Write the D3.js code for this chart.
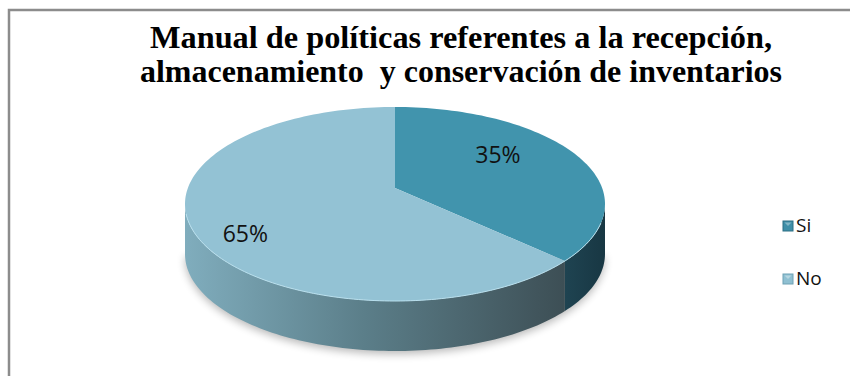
<!DOCTYPE html>
<html>
<head>
<meta charset="utf-8">
<script src="https://cdn.jsdelivr.net/npm/d3@7"></script>
<style>
  body { margin: 0; background: #fff; }
  svg { display: block; }
</style>
</head>
<body>
<div class="chart"></div>
<script>
const width = 850;
const height = 376;

// data
const categories = ['Si', 'No'];
const values = [35, 65];
const titleLines = [
  'Manual de políticas referentes a la recepción,',
  'almacenamiento  y conservación de inventarios'
];

const topColors = ['#4194ad', '#93c2d4'];
const legendColors = ['#3f8fa8', '#8fc0d2'];

// pie geometry (pseudo 3d)
const cx = 395;
const cy = 204;
const rx = 210;
const ry = 97;
const depth = 50;
const apexLift = 16;

const svg = d3.select('.chart')
  .append('svg')
  .attr('width', width)
  .attr('height', height);

const defs = svg.append('defs');

const noSide = defs.append('linearGradient')
  .attr('id', 'side-no')
  .attr('gradientUnits', 'userSpaceOnUse')
  .attr('x1', cx - rx).attr('x2', cx + rx * 0.9)
  .attr('y1', 0).attr('y2', 0);
noSide.append('stop').attr('offset', 0).attr('stop-color', '#80adbd');
noSide.append('stop').attr('offset', 0.45).attr('stop-color', '#5b7e89');
noSide.append('stop').attr('offset', 1).attr('stop-color', '#3a4a50');

const siSide = defs.append('linearGradient')
  .attr('id', 'side-si')
  .attr('gradientUnits', 'userSpaceOnUse')
  .attr('x1', cx + rx * 0.8).attr('x2', cx + rx)
  .attr('y1', 0).attr('y2', 0);
siSide.append('stop').attr('offset', 0).attr('stop-color', '#1f4452');
siSide.append('stop').attr('offset', 1).attr('stop-color', '#183743');

const shadow = defs.append('filter')
  .attr('id', 'blur')
  .attr('x', '-20%').attr('y', '-50%')
  .attr('width', '140%').attr('height', '200%');
shadow.append('feGaussianBlur').attr('stdDeviation', 4);

// frame
svg.append('path')
  .attr('d', `M9,${height + 5} V10 H${width + 5}`)
  .attr('fill', 'none')
  .attr('stroke', '#8c8c8c')
  .attr('stroke-width', 2.5);

// title
svg.append('g')
  .selectAll('text')
  .data(titleLines)
  .join('text')
  .attr('x', 461)
  .attr('y', (d, i) => 48 + i * 34)
  .attr('text-anchor', 'middle')
  .attr('font-family', '"Liberation Serif", "Times New Roman", serif')
  .attr('font-weight', 'bold')
  .attr('font-size', 32)
  .attr('textLength', (d, i) => (i === 0 ? 622 : 642))
  .attr('lengthAdjust', 'spacingAndGlyphs')
  .style('white-space', 'pre')
  .attr('fill', '#000')
  .text((d) => d);

const pie = d3.pie().sort(null).value((d) => d);
const arcs = pie(values);

const pt = (a, dy = 0) => [cx + rx * Math.sin(a), cy - ry * Math.cos(a) + dy];
const line = d3.line();

function rim(a0, a1, dy = 0) {
  const n = Math.max(2, Math.ceil(Math.abs(a1 - a0) * 40));
  return d3.range(n + 1).map((k) => pt(a0 + (a1 - a0) * k / n, dy));
}

// shadow under the pie
svg.append('path')
  .attr('d', line(rim(Math.PI / 2, 3 * Math.PI / 2, depth + 3)) + 'Z')
  .attr('fill', '#000')
  .attr('opacity', 0.28)
  .attr('filter', 'url(#blur)');

// side walls (front half only)
const sideG = svg.append('g');
arcs.forEach((a, i) => {
  const s = Math.max(a.startAngle, Math.PI / 2);
  const e = Math.min(a.endAngle, 3 * Math.PI / 2);
  if (e <= s) return;
  const pts = rim(s, e).concat(rim(e, s, depth));
  sideG.append('path')
    .attr('d', line(pts) + 'Z')
    .attr('fill', i === 0 ? 'url(#side-si)' : 'url(#side-no)');
});

// top faces
const apex = [cx, cy - apexLift];
const topG = svg.append('g');
arcs.forEach((a, i) => {
  const pts = [apex].concat(rim(a.startAngle, a.endAngle));
  topG.append('path')
    .attr('d', line(pts) + 'Z')
    .attr('fill', topColors[i]);
});

// light rim on the front edge
topG.append('path')
  .attr('d', line(rim(Math.PI / 2 + 0.2, 3 * Math.PI / 2 - 0.1)))
  .attr('fill', 'none')
  .attr('stroke', '#b9e0ee')
  .attr('stroke-width', 1);

// labels
const labelR = [0.55, 0.8];
const labelDy = [-10, 10];
svg.append('g')
  .selectAll('text')
  .data(arcs)
  .join('text')
  .attr('x', (d, i) => cx + rx * labelR[i] * Math.sin((d.startAngle + d.endAngle) / 2))
  .attr('y', (d, i) => cy - apexLift - ry * labelR[i] * Math.cos((d.startAngle + d.endAngle) / 2))
  .attr('dy', (d, i) => labelDy[i])
  .attr('text-anchor', 'middle')
  .attr('dominant-baseline', 'central')
  .attr('font-family', '"Open Sans", "Noto Sans", sans-serif')
  .attr('font-size', 23)
  .attr('fill', '#111')
  .text((d) => `${d.data}%`);

// legend
const legend = svg.append('g')
  .attr('transform', 'translate(783, 221)');

const item = legend.selectAll('g')
  .data(categories)
  .join('g')
  .attr('transform', (d, i) => `translate(0, ${i * 53})`);

item.append('rect')
  .attr('width', 10)
  .attr('height', 10)
  .attr('fill', (d, i) => legendColors[i])
  .attr('stroke', (d, i) => (i === 0 ? '#2d6f84' : '#6fa2b5'))
  .attr('stroke-width', 1);

item.append('path')
  .attr('d', 'M1.5,1.5 L5,5 L8.5,1.5 Z')
  .attr('fill', '#fff')
  .attr('opacity', 0.35);

item.append('text')
  .attr('x', 13)
  .attr('y', 11)
  .attr('font-family', '"Open Sans", "Noto Sans", sans-serif')
  .attr('font-size', 19)
  .attr('fill', '#111')
  .text((d) => d);
</script>
</body>
</html>
